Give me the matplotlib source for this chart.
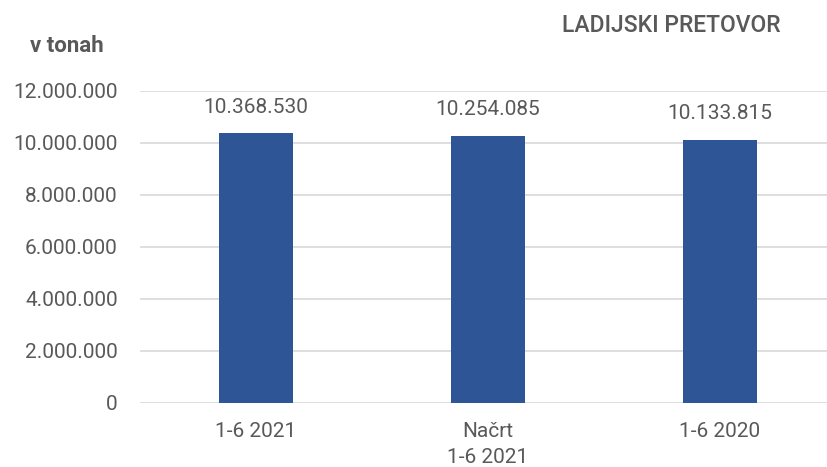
import matplotlib.pyplot as plt

categories = ["1-6 2021", "Načrt\n1-6 2021", "1-6 2020"]
values = [10368530, 10254085, 10133815]
yticks = [0, 2000000, 4000000, 6000000, 8000000, 10000000, 12000000]

def fmt(v):
    return f"{v:,}".replace(",", ".")

plt.rcParams["font.family"] = ["Roboto", "DejaVu Sans"]
gray = "#595959"
bar_color = "#2e5596"

fig = plt.figure(figsize=(8.28, 4.67), dpi=100)
ax = fig.add_axes([140/828, 64/467, 696/828, 312/467])

x = range(len(categories))
bars = ax.bar(x, values, width=0.315, color=bar_color, zorder=3)
for xi, v in zip(x, values):
    ax.text(xi, v + 650000, fmt(v), ha="center", va="bottom", fontsize=15, color=gray)

ax.set_xlim(-0.5, 2.5)
ax.set_ylim(0, 12000000)
ax.set_yticks(yticks)
ax.set_yticklabels([fmt(t) for t in yticks])
ax.set_xticks(list(x))
ax.set_xticklabels(categories, linespacing=1.45)
ax.tick_params(axis="y", length=0, labelsize=15, labelcolor=gray, pad=16)
ax.tick_params(axis="x", length=0, labelsize=15, labelcolor=gray, pad=14)
ax.grid(axis="y", color="#d9d9d9", linewidth=1.2, zorder=0)
for s in ax.spines.values():
    s.set_visible(False)

fig.text(30/828, 1 - 46/467, "v tonah", fontsize=16, fontweight="bold", color=gray, va="center")
fig.text(562/828, 1 - 25/467, "LADIJSKI PRETOVOR", fontsize=16.5, fontweight="medium", color=gray, va="center")

fig.savefig("out.png", dpi=100)
